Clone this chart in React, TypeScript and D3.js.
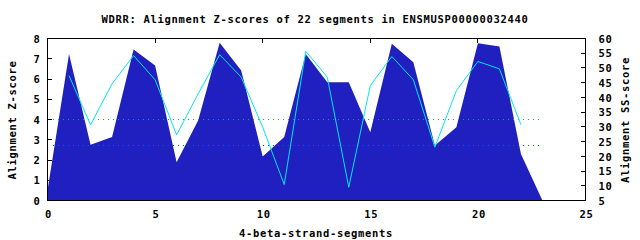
import React from "react";
import * as d3 from "d3";

const title = "WDRR: Alignment Z-scores of 22 segments in ENSMUSP00000032440";
const xLabel = "4-beta-strand-segments";
const yLabel = "Alignment Z-score";
const y2Label = "Alignment SS-score";

// Z-scores (filled area), segment index 0..23
const zX = [0, 1, 2, 3, 4, 5, 6, 7, 8, 9, 10, 11, 12, 13, 14, 15, 16, 17, 18, 19, 20, 21, 22, 23];
const zScores = [0.5, 7.24, 2.75, 3.13, 7.46, 6.67, 1.89, 3.95, 7.79, 6.42, 2.17, 3.13, 7.24, 5.84, 5.84, 3.37, 7.74, 6.83, 2.72, 3.62, 7.77, 7.6, 2.3, 0];

// SS-scores (cyan line, right axis), segments 1..22
const ssX = [1, 2, 3, 4, 5, 6, 7, 8, 9, 10, 11, 12, 13, 14, 15, 16, 17, 18, 19, 20, 21, 22];
const ssScores = [47.4, 30.7, 44.6, 54.2, 46.0, 27.3, 41.2, 54.5, 46.9, 29.9, 10.4, 55.7, 46.9, 9.5, 44.0, 53.9, 46.0, 23.1, 42.3, 52.2, 49.7, 30.7];

// threshold lines (left axis)
const greenLevel = 4.03;
const redLevel = 2.75;
const levelRange = [0, 23];

const xTicks = [0, 5, 10, 15, 20, 25];
const yTicks = [0, 1, 2, 3, 4, 5, 6, 7, 8];
const y2Ticks = [5, 10, 15, 20, 25, 30, 35, 40, 45, 50, 55, 60];

const font = "'DejaVu Sans Mono', monospace";

export default function App() {
  const L = 47, R = 585, T = 38, B = 200;
  const x = d3.scaleLinear().domain([0, 25]).range([L + 0.5, R + 0.5]);
  const y = d3.scaleLinear().domain([0, 8]).range([B + 0.5, T + 0.5]);
  const y2 = d3.scaleLinear().domain([5, 60]).range([B + 0.5, T + 0.5]);

  const zData = zX.map((v, i) => [v, zScores[i]] as [number, number]);
  const ssData = ssX.map((v, i) => [v, ssScores[i]] as [number, number]);

  const area = d3
    .area<[number, number]>()
    .x((d) => x(d[0]))
    .y0(y(0))
    .y1((d) => y(d[1]));
  const line = d3
    .line<[number, number]>()
    .x((d) => x(d[0]))
    .y((d) => y2(d[1]));

  const textStyle: React.CSSProperties = {
    fontFamily: font,
    fontWeight: "bold",
    fontSize: "10.5px",
    letterSpacing: "0.68px",
  };

  const lx0 = Math.round(x(levelRange[0])) + 5;
  const lx1 = Math.round(x(levelRange[1]));

  return (
    <svg
      width={640}
      height={240}
      style={{ position: "absolute", left: 0, top: 0, background: "#fff" }}
    >
      <rect x={0} y={0} width={640} height={240} fill="#fff" />
      {/* ticks (behind the fill) */}
      <g stroke="#000" strokeWidth={1} shapeRendering="crispEdges">
        {xTicks.slice(1, -1).map((t) => (
          <g key={"xt" + t}>
            <line x1={x(t)} x2={x(t)} y1={B + 0.5} y2={B - 4} />
            <line x1={x(t)} x2={x(t)} y1={T + 0.5} y2={T + 5} />
          </g>
        ))}
        {yTicks.slice(1, -1).map((t) => (
          <line key={"yt" + t} x1={L + 0.5} x2={L + 5} y1={y(t)} y2={y(t)} />
        ))}
        {y2Ticks.slice(1, -1).map((t) => (
          <line key={"y2t" + t} x1={R + 0.5} x2={R - 4} y1={y2(t)} y2={y2(t)} />
        ))}
      </g>
      <path d={area(zData) || ""} fill="#2020c0" />
      <line
        x1={lx0}
        x2={lx1}
        y1={Math.round(y(greenLevel)) + 0.5}
        y2={Math.round(y(greenLevel)) + 0.5}
        stroke="#00c000"
        strokeWidth={1}
        strokeDasharray="1 4"
      />
      <line
        x1={lx0}
        x2={lx1}
        y1={Math.round(y(redLevel)) + 0.5}
        y2={Math.round(y(redLevel)) + 0.5}
        stroke="#ff0000"
        strokeWidth={1}
        strokeDasharray="1 4"
      />
      <path d={line(ssData) || ""} fill="none" stroke="#00e8e8" strokeWidth={1} />
      <rect
        x={L + 0.5}
        y={T + 0.5}
        width={R - L}
        height={B - T}
        fill="none"
        stroke="#000"
        strokeWidth={1}
        shapeRendering="crispEdges"
      />
      <g style={textStyle} fill="#000">
        <text x={315} y={23} textAnchor="middle">{title}</text>
        {xTicks.map((t) => (
          <text key={"xl" + t} x={x(t) + 1} y={217.5} textAnchor="middle">{t}</text>
        ))}
        {yTicks.map((t) => (
          <text key={"yl" + t} x={40.5} y={y(t) + 4.2} textAnchor="end">{t}</text>
        ))}
        {y2Ticks.map((t) => (
          <text key={"y2l" + t} x={598.5} y={y2(t) + 4.2} textAnchor="start">{t}</text>
        ))}
        <text x={316} y={236.5} textAnchor="middle">{xLabel}</text>
        <text transform="translate(15.8,120) rotate(-90)" textAnchor="middle">{yLabel}</text>
        <text transform="translate(628.5,120) rotate(-90)" textAnchor="middle">{y2Label}</text>
      </g>
    </svg>
  );
}
